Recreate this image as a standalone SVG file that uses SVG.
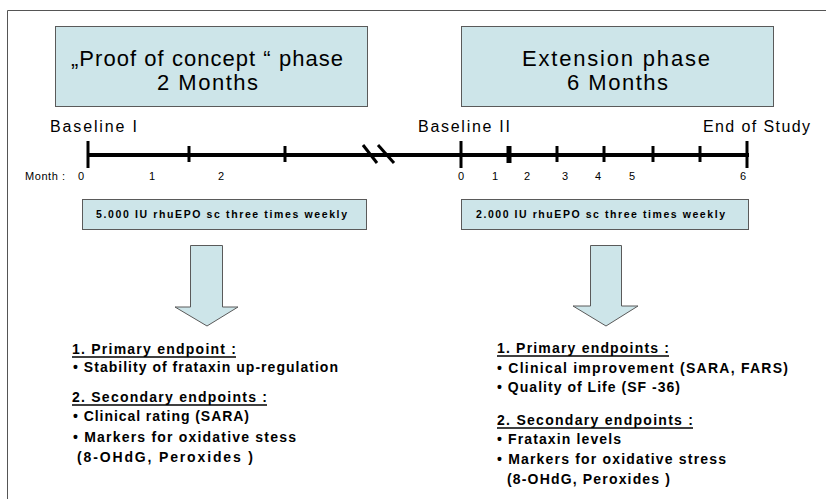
<svg xmlns="http://www.w3.org/2000/svg" width="826" height="499" viewBox="0 0 826 499">
<style>
.box{fill:#cde5e9;stroke:#5a5a5a;stroke-width:1}
.t{font-family:"Liberation Sans",Arial,sans-serif;fill:#000}
.title{font-size:22px}
.lab{font-size:16px}
.mo{font-size:11px}
.dose{font-size:10.5px;font-weight:bold}
.ep{font-size:14px;font-weight:bold}
.ul{stroke:#000;stroke-width:1.3}
.tick{stroke:#000;stroke-width:3}
.arrow{fill:#cde5e9;stroke:#5a5a5a;stroke-width:1}
</style>
<rect width="826" height="499" fill="#fff"/>
<path d="M7.5 499V10.5H826" fill="none" stroke="#555" stroke-width="1"/>

<g id="phase1">
<rect class="box" x="55.5" y="26.5" width="312" height="80"/>
<text class="t title" x="71" y="66" textLength="272" lengthAdjust="spacing">„Proof of concept “ phase</text>
<text class="t title" x="157" y="90" textLength="101" lengthAdjust="spacing">2 Months</text>
</g>
<g id="phase2">
<rect class="box" x="461.5" y="26.5" width="312" height="80"/>
<text class="t title" x="522" y="66" textLength="188" lengthAdjust="spacing">Extension phase</text>
<text class="t title" x="567" y="90" textLength="101" lengthAdjust="spacing">6 Months</text>
</g>

<g id="timeline">
<text class="t lab" x="50" y="132" textLength="87" lengthAdjust="spacing">Baseline I</text>
<text class="t lab" x="418" y="132" textLength="92" lengthAdjust="spacing">Baseline II</text>
<text class="t lab" x="703" y="132" textLength="107" lengthAdjust="spacing">End of Study</text>
<line x1="87" y1="155" x2="749" y2="155" stroke="#000" stroke-width="4"/>
<line class="tick" x1="88" y1="141" x2="88" y2="168"/>
<line class="tick" x1="189" y1="146" x2="189" y2="162"/>
<line class="tick" x1="285" y1="146" x2="285" y2="162"/>
<line class="tick" x1="461" y1="141" x2="461" y2="168"/>
<line class="tick" x1="509" y1="146" x2="509" y2="163" style="stroke-width:5"/>
<line class="tick" x1="557" y1="146" x2="557" y2="162"/>
<line class="tick" x1="604" y1="146" x2="604" y2="162"/>
<line class="tick" x1="653" y1="146" x2="653" y2="162"/>
<line class="tick" x1="700" y1="146" x2="700" y2="162"/>
<line class="tick" x1="747" y1="141" x2="747" y2="168"/>
<line class="tick" x1="363" y1="145" x2="377" y2="163"/>
<line class="tick" x1="378" y1="145" x2="394" y2="163"/>
<text class="t mo" x="25" y="180" textLength="40" lengthAdjust="spacing">Month :</text>
<g class="t mo" text-anchor="middle">
<text x="81" y="180">0</text>
<text x="152" y="180">1</text>
<text x="221" y="180">2</text>
<text x="461" y="180">0</text>
<text x="495" y="180">1</text>
<text x="527" y="180">2</text>
<text x="565" y="180">3</text>
<text x="598" y="180">4</text>
<text x="632" y="180">5</text>
<text x="743" y="180">6</text>
</g>
</g>

<g id="dose1">
<rect class="box" x="82.5" y="199.5" width="284" height="30"/>
<text class="t dose" x="96" y="218" textLength="251" lengthAdjust="spacing">5.000 IU  rhuEPO  sc three  times  weekly</text>
</g>
<g id="dose2">
<rect class="box" x="461.5" y="199.5" width="287" height="30"/>
<text class="t dose" x="476" y="218" textLength="249" lengthAdjust="spacing">2.000 IU  rhuEPO  sc three  times  weekly</text>
</g>

<g id="connectors">
<polygon class="arrow" points="190.5,245.5 222.5,245.5 222.5,307 238,307 207,326 175,307 190.5,307"/>
<polygon class="arrow" points="590.5,245.5 621.5,245.5 621.5,306 638,306 606,326 573,306 590.5,306"/>
</g>

<g id="endpoints1">
<text class="t ep" x="72" y="354" textLength="164" lengthAdjust="spacing">1. Primary  endpoint :</text>
<line class="ul" x1="72" y1="357" x2="236" y2="357"/>
<text class="t ep" x="73" y="372" textLength="265" lengthAdjust="spacing">• Stability  of frataxin  up-regulation</text>
<text class="t ep" x="72" y="402" textLength="195" lengthAdjust="spacing">2. Secondary  endpoints :</text>
<line class="ul" x1="72" y1="405" x2="267" y2="405"/>
<text class="t ep" x="73" y="421" textLength="176" lengthAdjust="spacing">• Clinical  rating (SARA)</text>
<text class="t ep" x="73" y="442" textLength="223" lengthAdjust="spacing">• Markers  for oxidative  stess</text>
<text class="t ep" x="77" y="462" textLength="176" lengthAdjust="spacing">(8-OHdG,  Peroxides )</text>
</g>
<g id="endpoints2">
<text class="t ep" x="497" y="353" textLength="172" lengthAdjust="spacing">1. Primary  endpoints :</text>
<line class="ul" x1="497" y1="356" x2="669" y2="356"/>
<text class="t ep" x="497" y="373" textLength="291" lengthAdjust="spacing">• Clinical  improvement  (SARA, FARS)</text>
<text class="t ep" x="497" y="392" textLength="183" lengthAdjust="spacing">• Quality  of Life (SF -36)</text>
<text class="t ep" x="497" y="425" textLength="196" lengthAdjust="spacing">2. Secondary  endpoints :</text>
<line class="ul" x1="497" y1="428" x2="693" y2="428"/>
<text class="t ep" x="497" y="444" textLength="124" lengthAdjust="spacing">• Frataxin  levels</text>
<text class="t ep" x="497" y="464" textLength="229" lengthAdjust="spacing">• Markers  for oxidative  stress</text>
<text class="t ep" x="507" y="484" textLength="163" lengthAdjust="spacing">(8-OHdG,  Peroxides )</text>
</g>
</svg>
